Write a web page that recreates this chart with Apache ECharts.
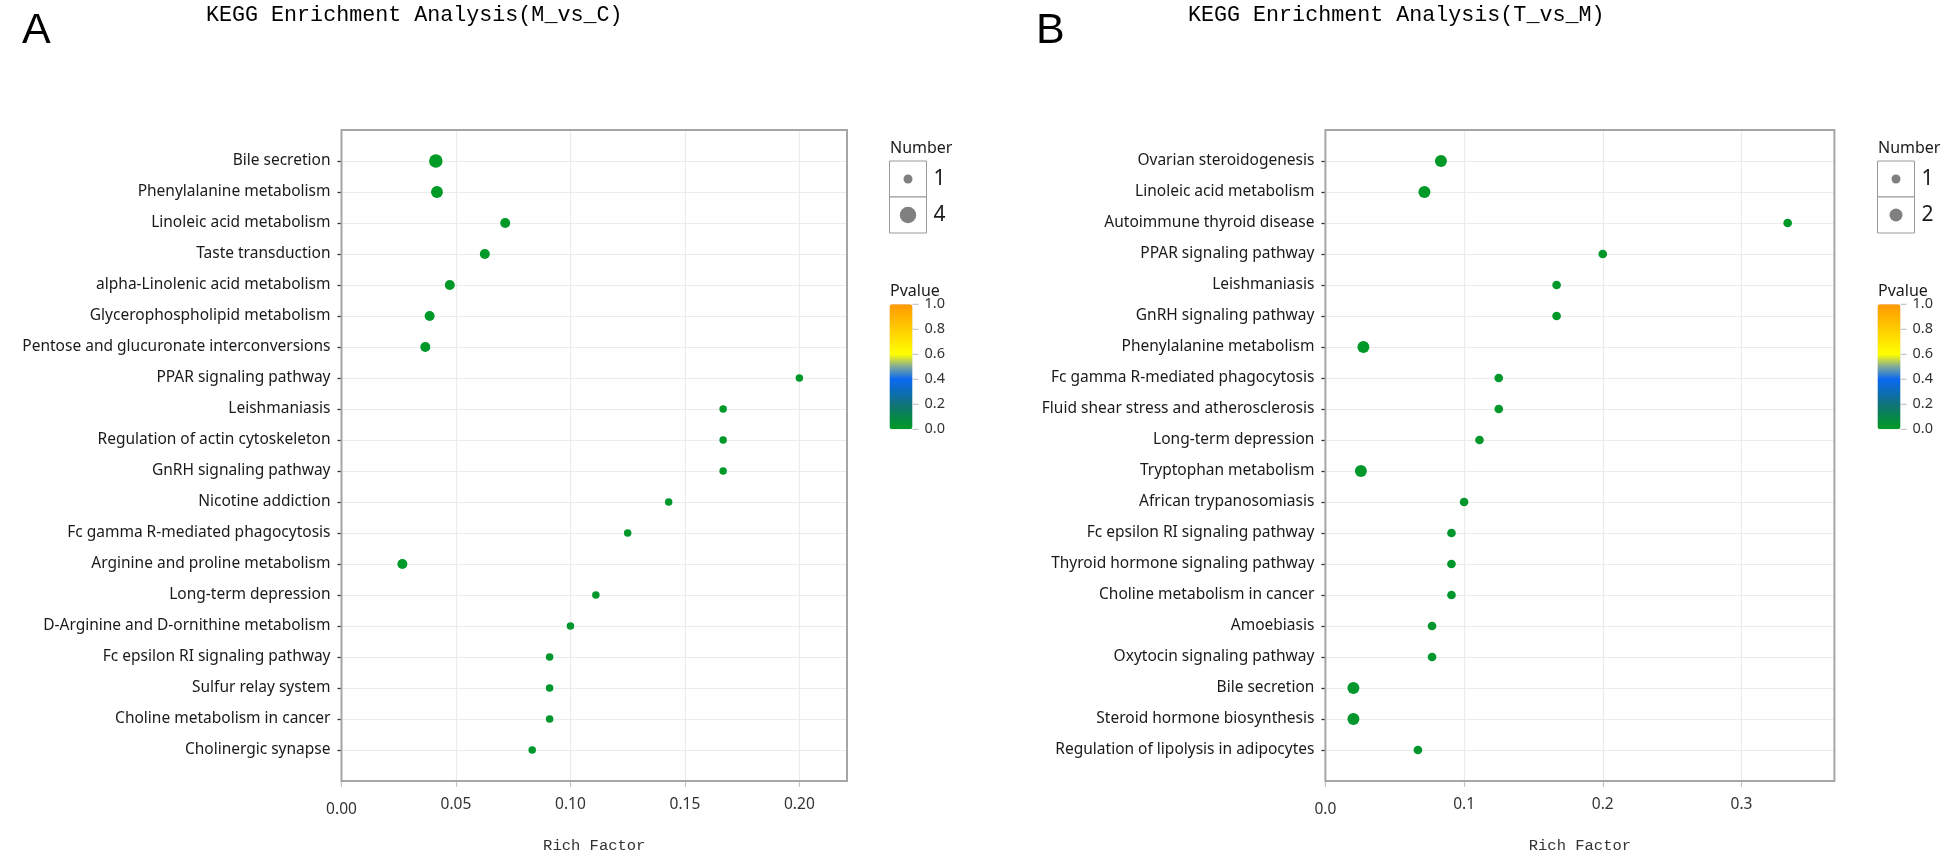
<!DOCTYPE html>
<html><head><meta charset="utf-8">
<script src="https://cdn.jsdelivr.net/npm/echarts@6/dist/echarts.min.js"></script>
<style>html,body{margin:0;padding:0;background:#fff}#c{width:1944px;height:857px}</style>
</head><body><div id="c"></div>
<script>
// ---------- data ----------
const titleA = 'KEGG Enrichment Analysis(M_vs_C)';
const titleB = 'KEGG Enrichment Analysis(T_vs_M)';
const panelA = 'A';
const panelB = 'B';
const xName = 'Rich Factor';

const pathwaysA = ['Bile secretion','Phenylalanine metabolism','Linoleic acid metabolism','Taste transduction','alpha-Linolenic acid metabolism','Glycerophospholipid metabolism','Pentose and glucuronate interconversions','PPAR signaling pathway','Leishmaniasis','Regulation of actin cytoskeleton','GnRH signaling pathway','Nicotine addiction','Fc gamma R-mediated phagocytosis','Arginine and proline metabolism','Long-term depression','D-Arginine and D-ornithine metabolism','Fc epsilon RI signaling pathway','Sulfur relay system','Choline metabolism in cancer','Cholinergic synapse'];
const richA = [0.0412,0.0417,0.0715,0.0626,0.0473,0.0385,0.0366,0.2000,0.1667,0.1667,0.1667,0.1429,0.1250,0.0266,0.1111,0.1000,0.0909,0.0909,0.0909,0.0833];
const countA = [4,3,2,2,2,2,2,1,1,1,1,1,1,2,1,1,1,1,1,1];
const pvalA = [0.001,0.002,0.004,0.005,0.006,0.007,0.008,0.010,0.012,0.012,0.012,0.013,0.014,0.010,0.015,0.016,0.017,0.017,0.017,0.018];

const pathwaysB = ['Ovarian steroidogenesis','Linoleic acid metabolism','Autoimmune thyroid disease','PPAR signaling pathway','Leishmaniasis','GnRH signaling pathway','Phenylalanine metabolism','Fc gamma R-mediated phagocytosis','Fluid shear stress and atherosclerosis','Long-term depression','Tryptophan metabolism','African trypanosomiasis','Fc epsilon RI signaling pathway','Thyroid hormone signaling pathway','Choline metabolism in cancer','Amoebiasis','Oxytocin signaling pathway','Bile secretion','Steroid hormone biosynthesis','Regulation of lipolysis in adipocytes'];
const richB = [0.0833,0.0714,0.3333,0.2000,0.1667,0.1667,0.0274,0.1250,0.1250,0.1111,0.0256,0.1000,0.0909,0.0909,0.0909,0.0769,0.0769,0.0202,0.0202,0.0667];
const countB = [2,2,1,1,1,1,2,1,1,1,2,1,1,1,1,1,1,2,2,1];
const pvalB = [0.003,0.004,0.005,0.008,0.010,0.010,0.012,0.013,0.013,0.014,0.014,0.015,0.016,0.016,0.016,0.017,0.017,0.018,0.018,0.019];

const xTicksA = [0, 0.05, 0.10, 0.15, 0.20];
const xTicksB = [0, 0.1, 0.2, 0.3];
const pTicks = [0, 0.2, 0.4, 0.6, 0.8, 1.0];
const pTickLabels = ['0.0','0.2','0.4','0.6','0.8','1.0'];
const sizeLegendA = [1, 4];
const sizeLegendB = [1, 2];

// ---------- styles / layout ----------
const pColors = ['#009a26','#07874a','#11727a','#0b6db8','#0a68f2','#7fa89a','#ffff00','#ffe600','#ffcc00','#ffb200','#ff9900'];
const GA = {left:341.5, top:130, width:505.5, height:651};
const GB = {left:1325.4, top:130, width:509, height:651};
const xMaxA = 0.2208, xMaxB = 0.367;
const sizeA = n => 7.5 + 6 * (Math.sqrt(n) - 1);
const sizeB = n => 8.7 + 3.3 * (Math.sqrt(n) - 1) / (Math.SQRT2 - 1);
const legDiamA = [9, 16.5];
const legDiamB = [9, 13];
const SANS = "'Noto Sans', 'DejaVu Sans', sans-serif";
const MONO = "'Liberation Mono', monospace";

function yData(cats) { return [''].concat(cats.slice().reverse(), ['']); }
function sData(cats, rich, cnt, p) { return cats.map((c, i) => [rich[i], cats.length - i, cnt[i], p[i], c]); }

function xAxisCfg(gi, maxV, ticks, dec) {
  return {
    type: 'value', gridIndex: gi, min: 0, max: maxV,
    name: xName, nameLocation: 'middle', nameGap: 57,
    nameTextStyle: {fontFamily: MONO, fontSize: 15.5, color: '#333'},
    axisLine: {show: false},
    axisTick: {show: true, length: 6, customValues: ticks, lineStyle: {color: '#c4c4c4', width: 1.2}},
    axisLabel: {
      customValues: ticks, margin: 16, color: '#333', fontFamily: SANS, fontSize: 15.5,
      formatter: v => v === 0 ? '{z|' + v.toFixed(dec) + '}' : v.toFixed(dec),
      rich: {z: {padding: [5, 0, 0, 0], fontFamily: SANS, fontSize: 15.5, color: '#333'}}
    },
    splitLine: {show: true, lineStyle: {color: '#ebebeb', width: 1.2}}
  };
}
function yAxisCfg(gi, cats) {
  const n = cats.length;
  return {
    type: 'category', gridIndex: gi, data: yData(cats), boundaryGap: false,
    axisLine: {show: false},
    axisTick: {show: true, length: 4, interval: (i) => i > 0 && i < n + 1, lineStyle: {color: '#333', width: 1.3}},
    axisLabel: {interval: 0, margin: 11, color: '#1a1a1a', fontFamily: SANS, fontSize: 15.5},
    splitLine: {show: true, interval: (i) => i > 0 && i < n + 1, lineStyle: {color: '#ebebeb', width: 1.2}}
  };
}

function legendGraphics(L, vals, diams) {
  const g = [];
  const txt = (x, y, s, size, color) => ({type: 'text', x: x, y: y, z: 50,
    style: {text: s, fontFamily: SANS, fontSize: size, fill: color, verticalAlign: 'middle', align: 'left'}});
  g.push(txt(L + 0.5, 148, 'Number', 16, '#1a1a1a'));
  vals.forEach((v, i) => {
    const top = 161 + i * 36;
    g.push({type: 'rect', z: 50, shape: {x: L, y: top, width: 37, height: 36},
      style: {fill: '#fff', stroke: '#999', lineWidth: 1}});
    g.push({type: 'circle', z: 51, shape: {cx: L + 18.5, cy: top + 18, r: diams[i] / 2},
      style: {fill: '#808080'}});
    g.push(txt(L + 44, top + 18, String(v), 21, '#1a1a1a'));
  });
  g.push(txt(L + 0.5, 291, 'Pvalue', 16, '#1a1a1a'));
  const barTop = 304.3, barH = 125;
  pTicks.forEach((p, i) => {
    const y = barTop + barH - p * barH;
    g.push({type: 'line', z: 50, shape: {x1: L + 23, y1: y, x2: L + 29, y2: y},
      style: {stroke: '#bbb', lineWidth: 1}});
    g.push(txt(L + 35, y, pTickLabels[i], 14.5, '#333'));
  });
  return g;
}

const chart = echarts.init(document.getElementById('c'));
const border = (G) => ({type: 'rect', z: 100, silent: true,
  shape: {x: G.left, y: G.top, width: G.width, height: G.height},
  style: {fill: null, stroke: '#a6a6a6', lineWidth: 2}});
const bigText = (x, y, s, font, size) => ({type: 'text', x: x, y: y, z: 50,
  style: {text: s, fontFamily: font, fontSize: size, fill: '#000', verticalAlign: 'middle', align: 'left'}});

chart.setOption({
  backgroundColor: '#fff',
  animation: false,
  grid: [
    Object.assign({containLabel: false, outerBoundsMode: 'none'}, GA),
    Object.assign({containLabel: false, outerBoundsMode: 'none'}, GB)
  ],
  xAxis: [xAxisCfg(0, xMaxA, xTicksA, 2), xAxisCfg(1, xMaxB, xTicksB, 1)],
  yAxis: [yAxisCfg(0, pathwaysA), yAxisCfg(1, pathwaysB)],
  visualMap: [
    {type: 'continuous', seriesIndex: 0, dimension: 3, min: 0, max: 1, left: 889.5, top: 304.3,
     itemWidth: 23, itemHeight: 125, calculable: false, padding: 0, hoverLink: false,
     inRange: {color: pColors}, textStyle: {fontSize: 0}},
    {type: 'continuous', seriesIndex: 1, dimension: 3, min: 0, max: 1, left: 1877.5, top: 304.3,
     itemWidth: 23, itemHeight: 125, calculable: false, padding: 0, hoverLink: false,
     inRange: {color: pColors}, textStyle: {fontSize: 0}}
  ],
  series: [
    {type: 'scatter', xAxisIndex: 0, yAxisIndex: 0, data: sData(pathwaysA, richA, countA, pvalA),
     symbolSize: d => sizeA(d[2]), itemStyle: {opacity: 1}},
    {type: 'scatter', xAxisIndex: 1, yAxisIndex: 1, data: sData(pathwaysB, richB, countB, pvalB),
     symbolSize: d => sizeB(d[2]), itemStyle: {opacity: 1}}
  ],
  graphic: [
    border(GA), border(GB),
    bigText(22, 31, panelA, "'Liberation Sans', Arial, sans-serif", 43),
    bigText(1036, 31, panelB, "'Liberation Sans', Arial, sans-serif", 43),
    bigText(206, 15, titleA, MONO, 21.7),
    bigText(1188, 15, titleB, MONO, 21.7)
  ].concat(legendGraphics(889.5, sizeLegendA, legDiamA), legendGraphics(1877.5, sizeLegendB, legDiamB))
});
</script>
</body></html>
